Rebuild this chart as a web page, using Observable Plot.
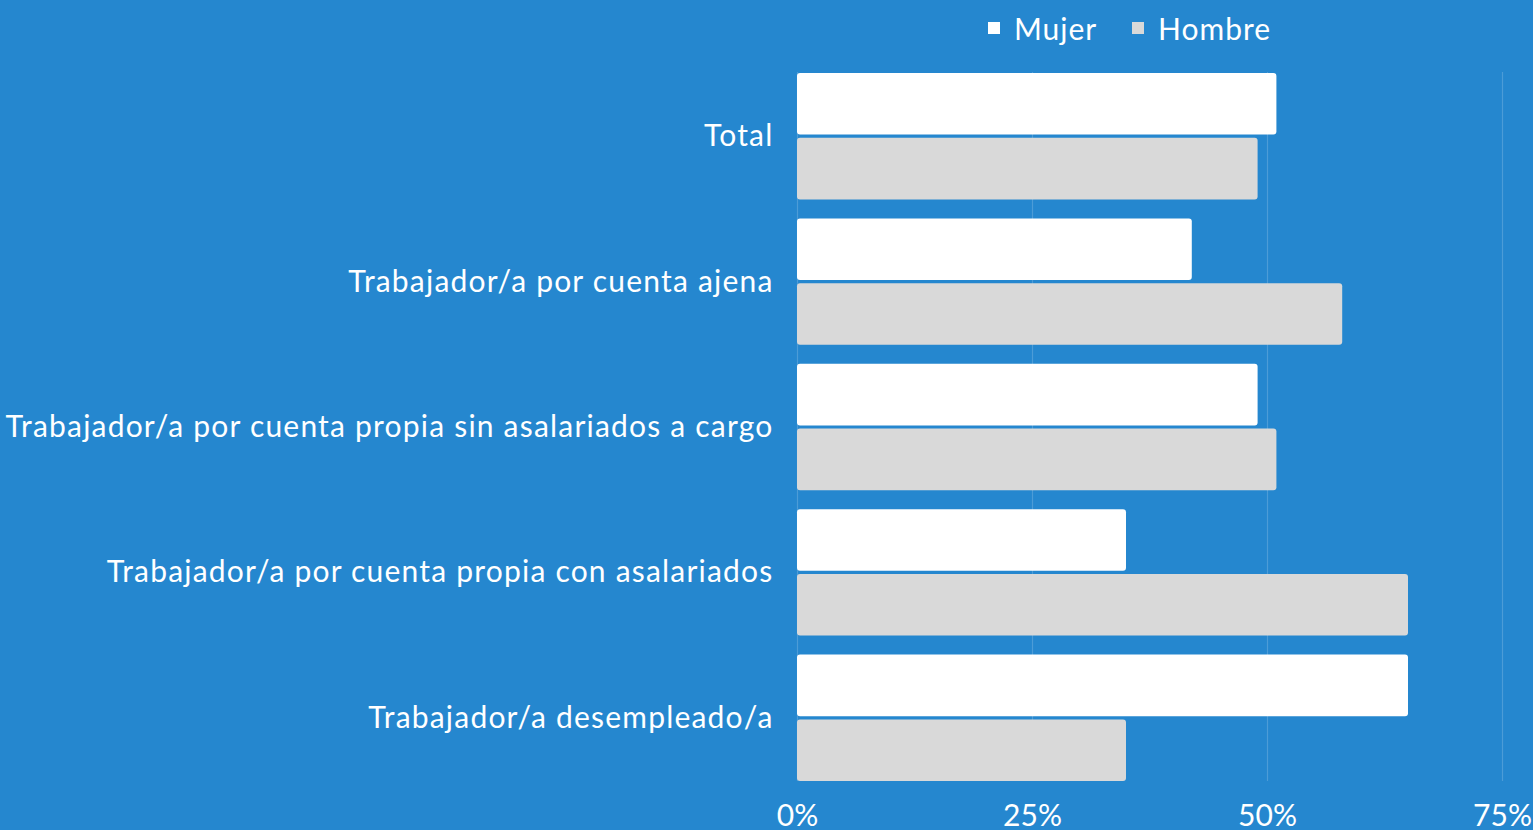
<!DOCTYPE html>
<html><head><meta charset="utf-8">
<script src="https://cdn.jsdelivr.net/npm/d3@7"></script>
<script src="https://cdn.jsdelivr.net/npm/@observablehq/plot@0.6"></script>
<style>
html,body{margin:0;padding:0;background:#2587cf;}
body{width:1533px;height:830px;overflow:hidden;font-family:Lato,"Open Sans",sans-serif;}
#legend{height:58px;position:relative;color:#fff;font-size:30px;letter-spacing:1px;}
.item{position:absolute;top:8px;display:flex;align-items:center;line-height:40px;}
.sw{width:12px;height:12px;margin-right:14px;}
#wrap{position:relative;width:1533px;height:772px;}
#wrap svg{position:absolute;left:0;top:0;}
#wrap g[aria-label="fy-axis tick label"] text{letter-spacing:1.2px;}
</style></head><body>
<div id="legend"></div>
<div id="wrap"></div>
<script>
const categories = [
  "Total",
  "Trabajador/a por cuenta ajena",
  "Trabajador/a por cuenta propia sin asalariados a cargo",
  "Trabajador/a por cuenta propia con asalariados",
  "Trabajador/a desempleado/a"
];
const series = ["Mujer", "Hombre"];
const mujer = [51, 42, 49, 35, 65];
const hombre = [49, 58, 51, 65, 35];
const xTicks = [0, 25, 50, 75];
const colors = ["#ffffff", "#d9d9d9"];

const data = categories.flatMap((c, i) => [
  {cat: c, sexo: series[0], v: mujer[i]},
  {cat: c, sexo: series[1], v: hombre[i]}
]);

const legend = document.getElementById("legend");
const lx = [988, 1132];
series.forEach((s, i) => {
  const d = document.createElement("div");
  d.className = "item";
  d.style.left = lx[i] + "px";
  d.innerHTML = `<span class="sw" style="background:${colors[i]}"></span><span>${s}</span>`;
  legend.appendChild(d);
});

const dims = {width: 1533, height: 772, marginTop: 15, marginBottom: 49, marginLeft: 797, marginRight: 31};
const style = {background: "transparent", color: "#fff", fontFamily: "Lato, sans-serif", fontSize: "30px", overflow: "visible"};

// grid layer (continuous across groups)
const grid = Plot.plot({
  ...dims, marginTop: 14, style,
  x: {domain: [0, 75], axis: null},
  marks: [Plot.ruleX(xTicks, {x: d => d, stroke: "#ffffff", strokeOpacity: 0.18, strokeWidth: 1.2})]
});

const chart = Plot.plot({
  ...dims, style,
  x: {domain: [0, 75], ticks: xTicks, tickFormat: d => d + "%", label: null, tickSize: 0, tickPadding: 23},
  y: {domain: series, axis: null, paddingInner: 0.05, paddingOuter: 0, round: false},
  fy: {domain: categories, axis: "left", paddingInner: 0.13, paddingOuter: 0, round: false, label: null, tickSize: 0, tickPadding: 24},
  color: {domain: series, range: colors},
  marks: [
    Plot.barX(data, {x: "v", y: "sexo", fy: "cat", fill: "sexo", rx: 3})
  ]
});
const wrap = document.getElementById("wrap");
wrap.appendChild(grid);
wrap.appendChild(chart);
</script>
</body></html>
